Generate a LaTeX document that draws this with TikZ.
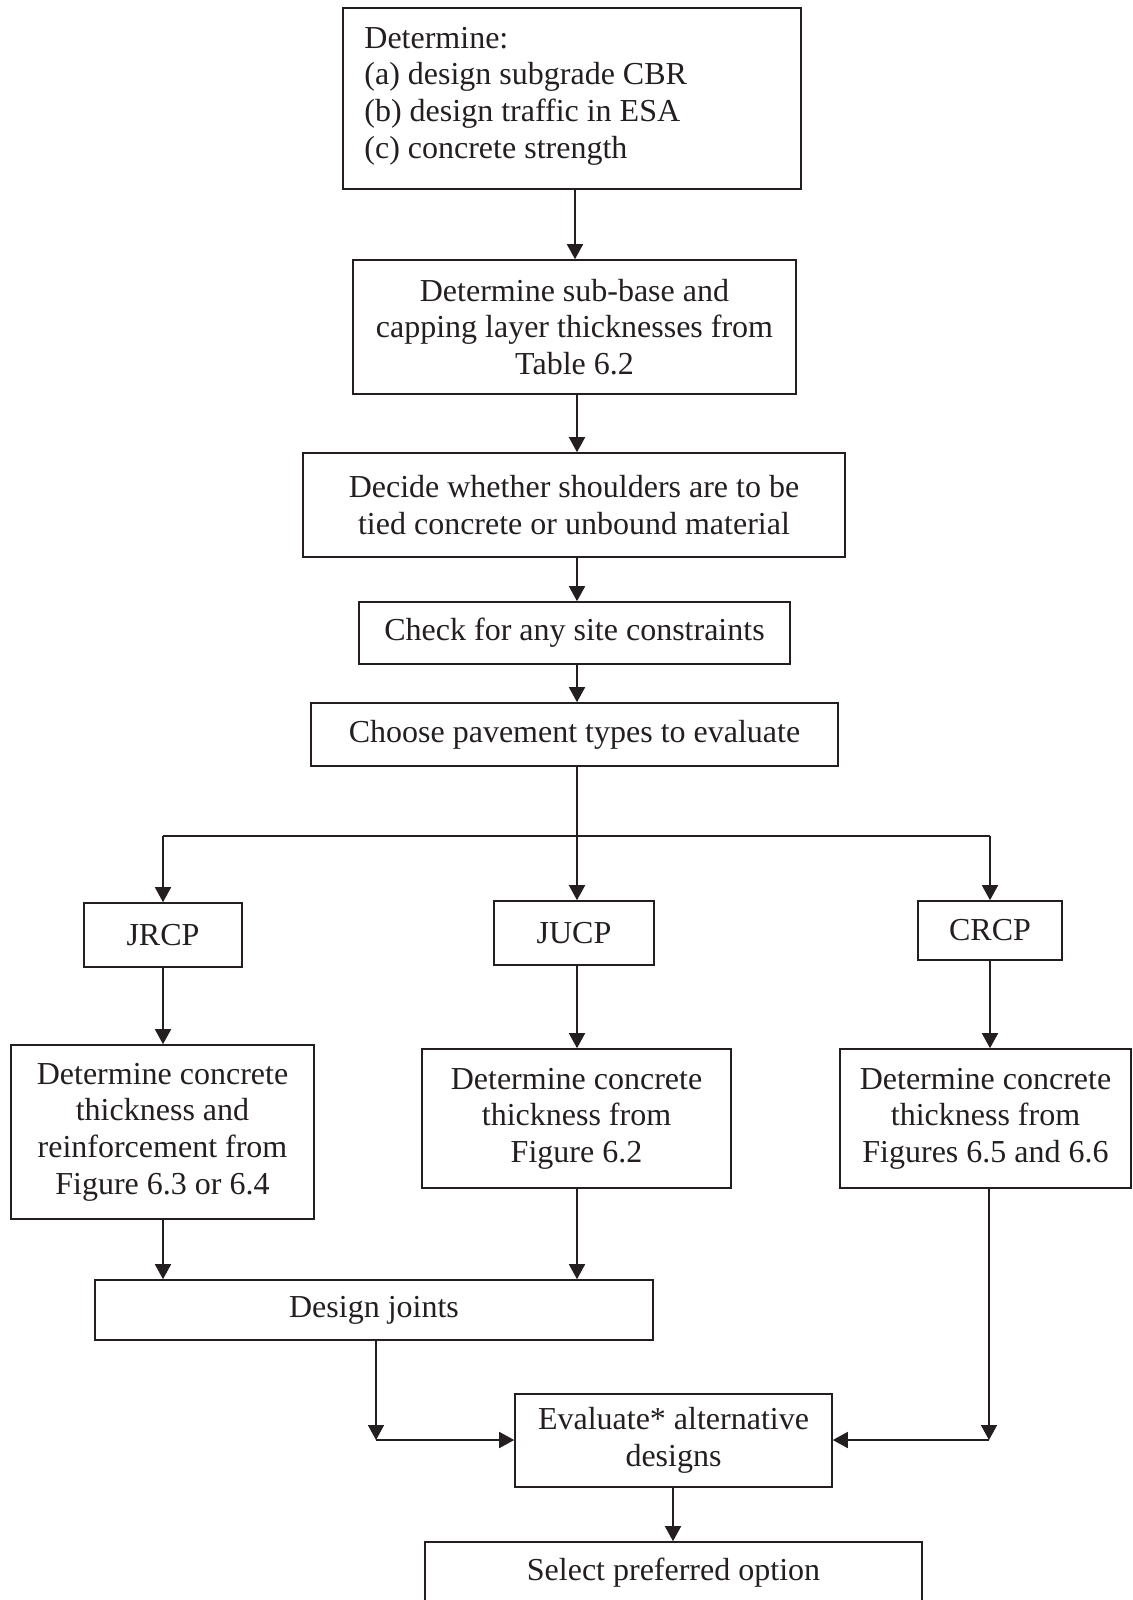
\documentclass[tikz,border=0pt]{standalone}
\usepackage{fontspec}
\setmainfont{Liberation Serif}
\usetikzlibrary{arrows.meta}
\definecolor{ink}{RGB}{35,31,32}
\begin{document}
\begin{tikzpicture}[x=0.5pt,y=-0.5pt,
  box/.style={draw=ink, line width=0.8pt, inner sep=0pt, align=center, text=ink,
    font=\fontsize{16}{18.3}\selectfont},
  arr/.style={draw=ink, line width=0.8pt, -{Triangle[length=7.5pt,width=8pt]}},
  ln/.style={draw=ink, line width=0.8pt}]
\useasboundingbox (0,0) rectangle (1133,1600);
\clip (0,0) rectangle (1133,1600);
% boxes
\node[box, minimum width=229pt, minimum height=90.5pt] (b1) at (572,98.5) {};
\node[anchor=west, align=left, text=ink, inner sep=0pt, font=\fontsize{16}{18.3}\selectfont] (b1t) at (364,96)
  {Determine:\\(a) design subgrade CBR\\(b) design traffic in ESA\\(c) concrete strength};
\node[box, minimum width=221.5pt, minimum height=67pt] (b2) at (574.5,327)
  {Determine sub-base and\\capping layer thicknesses from\\Table 6.2};
\node[box, minimum width=271pt, minimum height=52pt] (b3) at (574,505)
  {Decide whether shoulders are to be\\tied concrete or unbound material};
\node[box, minimum width=215.5pt, minimum height=31pt] (b4) at (574.5,633)
  {Check for any site constraints};
\node[box, minimum width=263.5pt, minimum height=31.5pt] (b5) at (574.5,734.5)
  {Choose pavement types to evaluate};
\node[box, minimum width=79pt, minimum height=32pt] (jr) at (163,935) {JRCP};
\node[box, minimum width=80pt, minimum height=32pt] (ju) at (574,933) {JUCP};
\node[box, minimum width=72pt, minimum height=29.5pt] (cr) at (990,930.5) {CRCP};
\node[box, minimum width=151.5pt, minimum height=87pt] (dl) at (162.5,1132)
  {Determine concrete\\thickness and\\reinforcement from\\Figure 6.3 or 6.4};
\node[box, minimum width=154.5pt, minimum height=69.5pt] (dm) at (576.5,1118.5)
  {Determine concrete\\thickness from\\Figure 6.2};
\node[box, minimum width=145.5pt, minimum height=69.5pt] (dr) at (985.5,1118.5)
  {Determine concrete\\thickness from\\Figures 6.5 and 6.6};
\node[box, minimum width=279pt, minimum height=30pt] (dj) at (374,1310) {Design joints};
\node[box, minimum width=158.5pt, minimum height=46.5pt] (ev) at (673.5,1440.5)
  {Evaluate* alternative\\designs};
\node[box, minimum width=248.5pt, minimum height=31pt] (se) at (673.5,1573)
  {Select preferred option};
% helper coordinates
\coordinate (x575) at (575,0);
\coordinate (x577) at (577,0);
\coordinate (x163) at (163,0);
\coordinate (x673) at (673,0);
\coordinate (hl) at (163,836);
\coordinate (hr) at (990,836);
\coordinate (cl) at (376,1440);
\coordinate (crr) at (989,1440);
% connectors
\draw[arr] (b1.south -| x575) -- (b2.north -| x575);
\draw[arr] (b2.south -| x577) -- (b3.north -| x577);
\draw[arr] (b3.south -| x577) -- (b4.north -| x577);
\draw[arr] (b4.south -| x577) -- (b5.north -| x577);
\draw[arr] (b5.south -| x577) -- (ju.north -| x577);
\draw[ln] (hl) -- (hr);
\draw[arr] (hl) -- (jr.north);
\draw[arr] (hr) -- (cr.north);
\draw[arr] (jr.south -| x163) -- (dl.north -| x163);
\draw[arr] (ju.south -| x577) -- (dm.north -| x577);
\draw[arr] (cr.south -| hr) -- (dr.north -| hr);
\draw[arr] (dl.south -| x163) -- (dj.north -| x163);
\draw[arr] (dm.south -| x577) -- (dj.north -| x577);
\draw[arr] (dj.south -| cl) -- (cl);
\draw[arr] (cl) -- (ev.west |- cl);
\draw[arr] (dr.south -| crr) -- (crr);
\draw[arr] (crr) -- (ev.east |- crr);
\draw[arr] (ev.south -| x673) -- (se.north -| x673);
\end{tikzpicture}
\end{document}
